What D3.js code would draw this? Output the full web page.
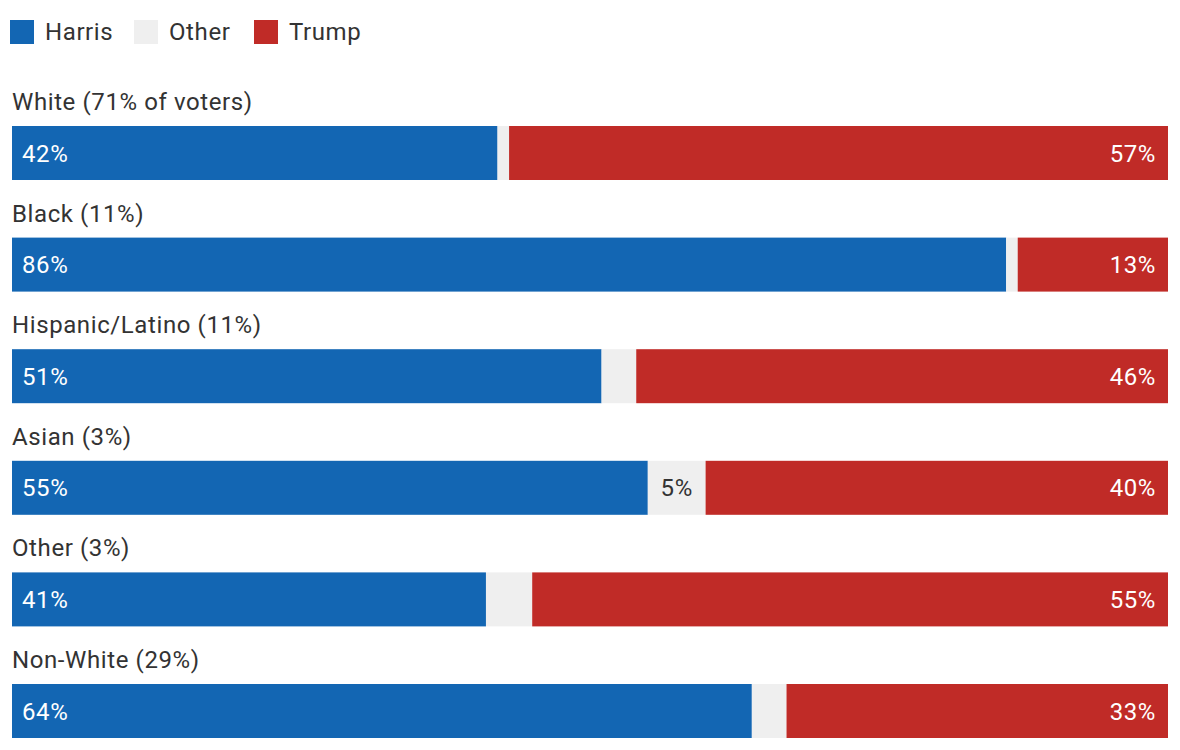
<!DOCTYPE html>
<html><head><meta charset="utf-8">
<script src="https://cdn.jsdelivr.net/npm/d3@7"></script>
<style>body{margin:0;background:#fff;} text{font-family:Roboto, "Noto Sans", sans-serif; letter-spacing:0.6px;}</style>
</head><body><svg id="c" width="1180" height="750"></svg>
<script>
const groups = ["White (71% of voters)","Black (11%)","Hispanic/Latino (11%)","Asian (3%)","Other (3%)","Non-White (29%)"];
const harris = [42,86,51,55,41,64];
const other = [1,1,3,5,4,3];
const trump = [57,13,46,40,55,33];
const seriesNames = ["Harris","Other","Trump"];
const colors = ["#1366b3","#efefef","#c02b27"];
const textColors = ["#ffffff","#333333","#ffffff"];

const svg = d3.select("#c");
const x = d3.scaleLinear().domain([0,100]).range([12,1168]);
const step = 111.6, barH = 54;
const y = d3.scaleLinear().domain([0, groups.length-1]).range([126, 126+step*(groups.length-1)]);
const rowTop = g => y(groups.indexOf(g));

// legend
const leg = svg.append("g");
const legX = [10,134,254];
seriesNames.forEach((n,i)=>{
  leg.append("rect").attr("x",legX[i]).attr("y",20).attr("width",24).attr("height",24).attr("fill",colors[i]);
  leg.append("text").attr("x",legX[i]+35).attr("y",40).attr("font-size",24).attr("fill","#333").text(n);
});

const rows = groups.map((g,i)=>({g, vals:[harris[i],other[i],trump[i]]}));
const row = svg.selectAll("g.row").data(rows).enter().append("g").attr("class","row");
row.append("text").attr("x",12).attr("y",d=>rowTop(d.g)-16).attr("font-size",24).attr("fill","#333").text(d=>d.g);
row.each(function(d){
  const gsel = d3.select(this);
  let acc = 0;
  d.vals.forEach((v,i)=>{
    const x0 = x(acc), x1 = x(acc+v);
    gsel.append("rect").attr("x",x0).attr("y",rowTop(d.g)).attr("width",x1-x0).attr("height",barH).attr("fill",colors[i]);
    const show = i!==1 || v>=5;
    if(show){
      const t = gsel.append("text").attr("y",rowTop(d.g)+barH/2+8.5).attr("font-size",24).attr("fill",textColors[i]).text(v+"%");
      if(i===0) t.attr("x",x0+10);
      else if(i===2) t.attr("x",x1-12).attr("text-anchor","end");
      else t.attr("x",(x0+x1)/2).attr("text-anchor","middle");
    }
    acc += v;
  });
});
</script></body></html>
